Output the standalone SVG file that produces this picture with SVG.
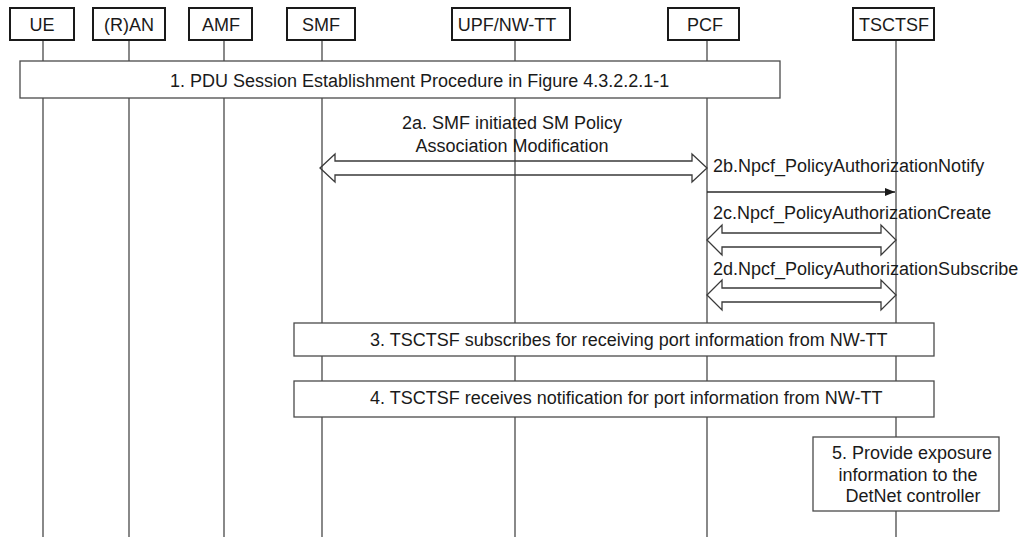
<svg xmlns="http://www.w3.org/2000/svg" width="1022" height="537" viewBox="0 0 1022 537">
<style>
  .hdr { fill: #ffffff; stroke: #1a1a1a; stroke-width: 2; }
  .life { stroke: #3a3a3a; stroke-width: 1.2; fill: none; }
  .step { fill: #ffffff; stroke: #4a4a4a; stroke-width: 1.3; }
  .t { font-family: "Liberation Sans", Arial, sans-serif; font-size: 18px; fill: #1a1a1a; }
  .c { text-anchor: middle; }
  .dbl { fill: none; stroke: #3a3a3a; stroke-width: 1.3; stroke-linejoin: miter; }
  .msg { stroke: #2a2a2a; stroke-width: 1.3; fill: none; }
</style>
<defs>
  <marker id="ah" viewBox="0 0 10 8" refX="10" refY="4" markerWidth="10" markerHeight="8" markerUnits="userSpaceOnUse" orient="auto">
    <path d="M0,0 L10,4 L0,8 Z" fill="#1a1a1a"/>
  </marker>
</defs>
<rect width="1022" height="537" fill="#ffffff"/>

<g id="UE">
  <line class="life" x1="43" y1="40" x2="43" y2="537"/>
  <rect class="hdr" x="10" y="8" width="64" height="32"/>
  <text class="t c" x="42" y="31">UE</text>
</g>
<g id="RAN">
  <line class="life" x1="129" y1="40" x2="129" y2="537"/>
  <rect class="hdr" x="93" y="8" width="72" height="32"/>
  <text class="t c" x="129" y="31">(R)AN</text>
</g>
<g id="AMF">
  <line class="life" x1="224" y1="40" x2="224" y2="537"/>
  <rect class="hdr" x="189" y="8" width="63" height="32"/>
  <text class="t c" x="221" y="31">AMF</text>
</g>
<g id="SMF">
  <line class="life" x1="322" y1="40" x2="322" y2="537"/>
  <rect class="hdr" x="287" y="8" width="68" height="32"/>
  <text class="t c" x="321" y="31">SMF</text>
</g>
<g id="UPF">
  <line class="life" x1="515" y1="40" x2="515" y2="537"/>
  <rect class="hdr" x="452" y="8" width="118" height="32"/>
  <text class="t c" x="507" y="31">UPF/NW-TT</text>
</g>
<g id="PCF">
  <line class="life" x1="707" y1="40" x2="707" y2="537"/>
  <rect class="hdr" x="668" y="8" width="71" height="32"/>
  <text class="t c" x="705" y="31">PCF</text>
</g>
<g id="TSCTSF">
  <line class="life" x1="896" y1="40" x2="896" y2="537"/>
  <rect class="hdr" x="853" y="8" width="81" height="32"/>
  <text class="t c" x="894" y="31">TSCTSF</text>
</g>

<g id="step1">
  <rect class="step" x="20" y="61" width="760" height="37"/>
  <text class="t" x="170" y="87">1. PDU Session Establishment Procedure in Figure 4.3.2.2.1-1</text>
</g>
<g id="step3">
  <rect class="step" x="294" y="323" width="640" height="33"/>
  <text class="t" x="370" y="346">3. TSCTSF subscribes for receiving port information from NW-TT</text>
</g>
<g id="step4">
  <rect class="step" x="294" y="381" width="640" height="36"/>
  <text class="t" x="370" y="404">4. TSCTSF receives notification for port information from NW-TT</text>
</g>
<g id="step5">
  <rect class="step" x="813" y="437" width="186" height="74"/>
  <text class="t c" x="912" y="459">5. Provide exposure</text>
  <text class="t c" x="908" y="481">information to the</text>
  <text class="t c" x="913" y="502">DetNet controller</text>
</g>

<g id="connectors">
  <g id="msg2a">
    <path class="dbl" d="M320,168 L335,154 L335,161 L692,161 L692,154 L707,168 L692,182 L692,175 L335,175 L335,182 Z"/>
    <text class="t c" x="512" y="129">2a. SMF initiated SM Policy</text>
    <text class="t c" x="512" y="152">Association Modification</text>
  </g>
  <g id="msg2b">
    <line class="msg" x1="707" y1="192" x2="895" y2="192" marker-end="url(#ah)"/>
    <text class="t" x="713" y="172">2b.Npcf_PolicyAuthorizationNotify</text>
  </g>
  <g id="msg2c">
    <path class="dbl" d="M707,240 L722,225 L722,233 L881,233 L881,225 L896,240 L881,255 L881,247 L722,247 L722,255 Z"/>
    <text class="t" x="713" y="219">2c.Npcf_PolicyAuthorizationCreate</text>
  </g>
  <g id="msg2d">
    <path class="dbl" d="M707,295 L722,280 L722,288 L881,288 L881,280 L896,295 L881,310 L881,302 L722,302 L722,310 Z"/>
    <text class="t" x="713" y="275">2d.Npcf_PolicyAuthorizationSubscribe</text>
  </g>
</g>
</svg>
